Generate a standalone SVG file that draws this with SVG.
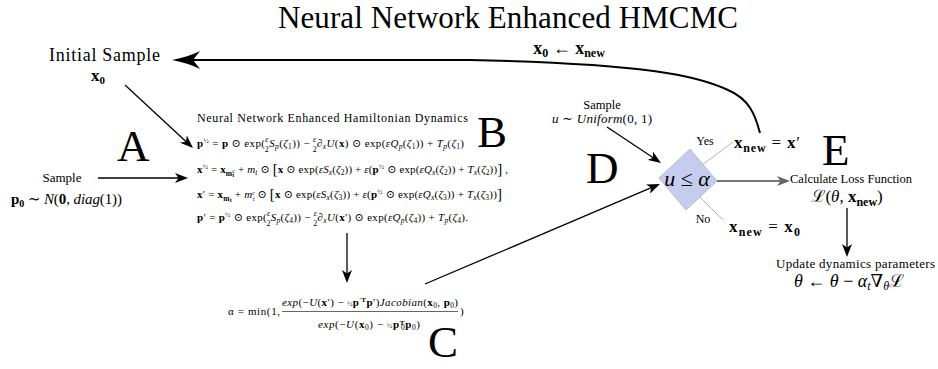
<svg xmlns="http://www.w3.org/2000/svg" width="938" height="369" viewBox="0 0 938 369" font-family="'Liberation Serif', 'Times New Roman', Tinos, 'DejaVu Serif', 'Noto Serif', serif">
<style>
text{font-family:"Liberation Serif","Times New Roman",Tinos,"DejaVu Serif","Noto Serif",serif;fill:#000}
.b{font-weight:bold}
.i{font-style:italic}
.big{font-size:45px}
.eq{font-size:11px}
.sub{font-size:7.5px}
.ss{font-size:6px}
.fr{font-size:8px}
.sup{font-size:7px}
.br{font-size:15px}
.conn{fill:none;stroke:#000;stroke-width:1.3}
</style>
<defs>
<marker id="ah" viewBox="0 0 13 10" refX="10" refY="5" markerWidth="13" markerHeight="10" markerUnits="userSpaceOnUse" orient="auto"><path d="M0,0 L13,5 L0,10 L3.5,5 Z" fill="#000"/></marker>
<marker id="ahg" viewBox="0 0 13 10" refX="10" refY="5" markerWidth="13" markerHeight="10" markerUnits="userSpaceOnUse" orient="auto"><path d="M0,0 L13,5 L0,10 L3.5,5 Z" fill="#666"/></marker>
<marker id="ahL" viewBox="0 0 28 18" refX="24" refY="9" markerWidth="28" markerHeight="18" markerUnits="userSpaceOnUse" orient="auto"><path d="M0,0 Q12,6 28,9 Q12,12 0,18 L7,9 Z" fill="#000"/></marker>
</defs>

<text x="508" y="28" font-size="31" text-anchor="middle" textLength="460">Neural Network Enhanced HMCMC</text>

<g id="connectors">
<path class="conn" style="stroke-width:2" d="M760,133 C755,114 749,99 728,90 C698,76 650,64 470,60 L176,60" marker-end="url(#ahL)"/>
<path class="conn" d="M125,85 L190.8,145.9" marker-end="url(#ah)"/>
<path class="conn" d="M98,178 L185,178" marker-end="url(#ah)"/>
<path class="conn" d="M347,233 L347,280" marker-end="url(#ah)"/>
<path class="conn" d="M425,284 L657.2,185.2" marker-end="url(#ah)"/>
<path class="conn" d="M607,127 L658.5,161.3" marker-end="url(#ah)"/>
<path class="conn" style="stroke:#777;stroke-width:2" d="M717,181 L787,181" marker-end="url(#ahg)"/>
<path class="conn" d="M847,208 L847,254" marker-end="url(#ah)"/>
<path class="conn" style="stroke:#aaa;stroke-width:0.9" d="M702,165 L733,142"/>
<path class="conn" style="stroke:#aaa;stroke-width:0.9" d="M700,197 L723,220"/>
<text x="569" y="54" font-size="18" text-anchor="middle"><tspan class="b">x</tspan><tspan class="b" font-size="12" dy="3">0</tspan><tspan dy="-3"> ← </tspan><tspan class="b">x</tspan><tspan class="b" font-size="12" dy="3">new</tspan></text>
</g>

<g id="initial">
<text x="49" y="61" font-size="18" textLength="111">Initial Sample</text>
<text x="98" y="81" font-size="17" text-anchor="middle"><tspan class="b">x</tspan><tspan class="b" font-size="11" dy="3">0</tspan></text>
</g>

<g id="A">
<text class="big" x="117" y="161">A</text>
<text x="62" y="182" font-size="13" text-anchor="middle">Sample</text>
<text x="11" y="204" font-size="15" textLength="111"><tspan class="b">p</tspan><tspan class="b" font-size="10" dy="3">0</tspan><tspan dy="-3"> ∼ </tspan><tspan class="i">N</tspan>(<tspan class="b">0</tspan>, <tspan class="i">diag</tspan>(1))</text>
</g>

<g id="B">
<text class="big" x="477" y="147">B</text>
<text x="197" y="122" font-size="12" textLength="271">Neural Network Enhanced Hamiltonian Dynamics</text>
<text class="eq" x="197" y="147" textLength="267"><tspan class="b">p</tspan><tspan class="sup" dy="-4">½</tspan><tspan dy="4"> = </tspan><tspan class="b">p</tspan> ⊙ exp(<tspan class="fr i" dy="-5">ε</tspan><tspan class="fr" dx="-4" dy="10">2</tspan><tspan class="i" dy="-5">S</tspan><tspan class="sub i" dy="2">p</tspan><tspan dy="-2">(</tspan><tspan class="i">ζ</tspan><tspan class="sub" dy="2">1</tspan><tspan dy="-2">)) − </tspan><tspan class="fr i" dy="-5">ε</tspan><tspan class="fr" dx="-4" dy="10">2</tspan><tspan dy="-5">∂</tspan><tspan class="sub i" dy="2">x</tspan><tspan class="i" dy="-2">U</tspan>(<tspan class="b">x</tspan>) ⊙ exp(<tspan class="i">εQ</tspan><tspan class="sub i" dy="2">p</tspan><tspan dy="-2">(</tspan><tspan class="i">ζ</tspan><tspan class="sub" dy="2">1</tspan><tspan dy="-2">)) + </tspan><tspan class="i">T</tspan><tspan class="sub i" dy="2">p</tspan><tspan dy="-2">(</tspan><tspan class="i">ζ</tspan><tspan class="sub" dy="2">1</tspan><tspan dy="-2">)</tspan></text>
<text class="eq" x="197" y="173" textLength="311"><tspan class="b">x</tspan><tspan class="sup" dy="-4">½</tspan><tspan dy="4"> = </tspan><tspan class="b">x</tspan><tspan class="sub b" dy="2.5">m</tspan><tspan class="ss b" dy="1.5">t</tspan><tspan class="ss" dx="-2" dy="-4.5">c</tspan><tspan dy="0.5"> + </tspan><tspan class="i">m</tspan><tspan class="sub i" dy="2">t</tspan><tspan dy="-2"> ⊙ </tspan><tspan class="br" dy="1">[</tspan><tspan class="b" dy="-1">x</tspan> ⊙ exp(<tspan class="i">εS</tspan><tspan class="sub i" dy="2">x</tspan><tspan dy="-2">(</tspan><tspan class="i">ζ</tspan><tspan class="sub" dy="2">2</tspan><tspan dy="-2">)) + </tspan><tspan class="i">ε</tspan>(<tspan class="b">p</tspan><tspan class="sup" dy="-4">½</tspan><tspan dy="4"> ⊙ exp(</tspan><tspan class="i">εQ</tspan><tspan class="sub i" dy="2">x</tspan><tspan dy="-2">(</tspan><tspan class="i">ζ</tspan><tspan class="sub" dy="2">2</tspan><tspan dy="-2">)) + </tspan><tspan class="i">T</tspan><tspan class="sub i" dy="2">x</tspan><tspan dy="-2">(</tspan><tspan class="i">ζ</tspan><tspan class="sub" dy="2">2</tspan><tspan dy="-2">))</tspan><tspan class="br" dy="1">]</tspan><tspan dy="-1"> ,</tspan></text>
<text class="eq" x="197" y="198" textLength="305"><tspan class="b">x</tspan>′ = <tspan class="b">x</tspan><tspan class="sub b" dy="2.5">m</tspan><tspan class="ss b" dy="1.5">t</tspan><tspan dy="-4"> + </tspan><tspan class="i">m</tspan><tspan class="ss i" dy="-3.5">c</tspan><tspan class="ss i" dx="-2.5" dy="6">t</tspan><tspan dy="-2.5"> ⊙ </tspan><tspan class="br" dy="1">[</tspan><tspan class="b" dy="-1">x</tspan> ⊙ exp(<tspan class="i">εS</tspan><tspan class="sub i" dy="2">x</tspan><tspan dy="-2">(</tspan><tspan class="i">ζ</tspan><tspan class="sub" dy="2">3</tspan><tspan dy="-2">)) + </tspan><tspan class="i">ε</tspan>(<tspan class="b">p</tspan><tspan class="sup" dy="-4">½</tspan><tspan dy="4"> ⊙ exp(</tspan><tspan class="i">εQ</tspan><tspan class="sub i" dy="2">x</tspan><tspan dy="-2">(</tspan><tspan class="i">ζ</tspan><tspan class="sub" dy="2">3</tspan><tspan dy="-2">)) + </tspan><tspan class="i">T</tspan><tspan class="sub i" dy="2">x</tspan><tspan dy="-2">(</tspan><tspan class="i">ζ</tspan><tspan class="sub" dy="2">3</tspan><tspan dy="-2">))</tspan><tspan class="br" dy="1">]</tspan></text>
<text class="eq" x="197" y="221" textLength="271"><tspan class="b">p</tspan>′ = <tspan class="b">p</tspan><tspan class="sup" dy="-4">½</tspan><tspan dy="4"> ⊙ exp(</tspan><tspan class="fr i" dy="-5">ε</tspan><tspan class="fr" dx="-4" dy="10">2</tspan><tspan class="i" dy="-5">S</tspan><tspan class="sub i" dy="2">p</tspan><tspan dy="-2">(</tspan><tspan class="i">ζ</tspan><tspan class="sub" dy="2">4</tspan><tspan dy="-2">)) − </tspan><tspan class="fr i" dy="-5">ε</tspan><tspan class="fr" dx="-4" dy="10">2</tspan><tspan dy="-5">∂</tspan><tspan class="sub i" dy="2">x</tspan><tspan class="i" dy="-2">U</tspan>(<tspan class="b">x</tspan>′) ⊙ exp(<tspan class="i">εQ</tspan><tspan class="sub i" dy="2">p</tspan><tspan dy="-2">(</tspan><tspan class="i">ζ</tspan><tspan class="sub" dy="2">4</tspan><tspan dy="-2">)) + </tspan><tspan class="i">T</tspan><tspan class="sub i" dy="2">p</tspan><tspan dy="-2">(</tspan><tspan class="i">ζ</tspan><tspan class="sub" dy="2">4</tspan><tspan dy="-2">).</tspan></text>
</g>

<g id="C">
<text class="big" x="428" y="357">C</text>
<text class="eq" x="228" y="315" textLength="52">α = min(1,</text>
<text class="eq" x="282" y="306" textLength="176"><tspan class="i">exp</tspan>(−<tspan class="i">U</tspan>(<tspan class="b">x</tspan>′) − <tspan class="sup">½</tspan><tspan class="b">p</tspan><tspan class="sup" dy="-4">′</tspan><tspan class="sup b">T</tspan><tspan class="b" dy="4">p</tspan>′)<tspan class="i">Jacobian</tspan>(<tspan class="b">x</tspan><tspan class="sub" dy="1.5">0</tspan><tspan dy="-1.5">, </tspan><tspan class="b">p</tspan><tspan class="sub" dy="1.5">0</tspan><tspan dy="-1.5">)</tspan></text>
<line x1="282" y1="311.5" x2="458" y2="311.5" stroke="#000" stroke-width="0.6"/>
<text class="eq" x="318" y="328" textLength="102"><tspan class="i">exp</tspan>(−<tspan class="i">U</tspan>(<tspan class="b">x</tspan><tspan class="sub" dy="1.5">0</tspan><tspan dy="-1.5">) − </tspan><tspan class="sup">½</tspan><tspan class="b">p</tspan><tspan class="sup b" dy="-3">T</tspan><tspan class="sub" dx="-4" dy="4.5">0</tspan><tspan class="b" dy="-1.5">p</tspan><tspan class="sub" dy="1.5">0</tspan><tspan dy="-1.5">)</tspan></text>
<text class="eq" x="460" y="315">)</text>
</g>

<g id="D">
<text class="big" x="586" y="183">D</text>
<text x="602" y="109" font-size="12.5" text-anchor="middle">Sample</text>
<text x="552" y="123" font-size="13" textLength="100"><tspan class="i">u</tspan> ∼ <tspan class="i">Uniform</tspan>(0, 1)</text>
<polygon points="690,149 717,181 686,210 659,178" fill="#c6cced" stroke="#a8aed6" stroke-width="0.8"/>
<text x="687" y="186" font-size="22" text-anchor="middle"><tspan class="i">u</tspan> ≤ <tspan class="i">α</tspan></text>
<text x="705" y="145" font-size="12" text-anchor="middle">Yes</text>
<text x="703" y="223" font-size="12" text-anchor="middle">No</text>
<text x="734" y="148" font-size="17" textLength="66"><tspan class="b">x</tspan><tspan class="b" font-size="12" dy="4">new</tspan><tspan dy="-4"> = </tspan><tspan class="b">x</tspan>′</text>
<text x="729" y="232" font-size="17" textLength="71"><tspan class="b">x</tspan><tspan class="b" font-size="12" dy="4">new</tspan><tspan dy="-4"> = </tspan><tspan class="b">x</tspan><tspan class="b" font-size="12" dy="4">0</tspan></text>
</g>

<g id="E">
<text class="big" x="822" y="165">E</text>
<text x="790" y="183" font-size="12.5" textLength="122">Calculate Loss Function</text>
<text x="847" y="202" font-size="17" text-anchor="middle">ℒ(<tspan class="i">θ</tspan>, <tspan class="b">x</tspan><tspan class="b" font-size="12" dy="4">new</tspan><tspan dy="-4">)</tspan></text>
</g>

<g id="update">
<text x="776" y="268" font-size="13" textLength="159">Update dynamics parameters</text>
<text x="849" y="287" font-size="18" text-anchor="middle"><tspan class="i">θ</tspan> ← <tspan class="i">θ</tspan> − <tspan class="i">α</tspan><tspan class="i" font-size="12" dy="3">t</tspan><tspan dy="-3">∇</tspan><tspan class="i" font-size="12" dy="3">θ</tspan><tspan dy="-3">ℒ</tspan></text>
</g>
</svg>
